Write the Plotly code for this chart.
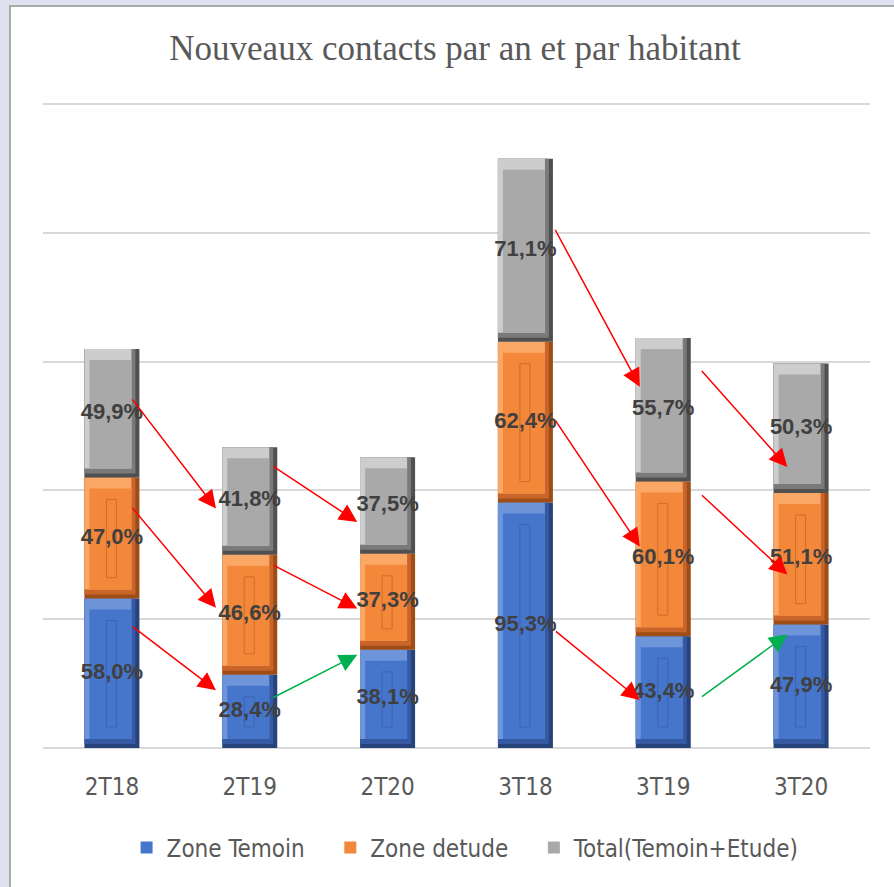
import plotly.graph_objects as go

# data
periods = ["2T18", "2T19", "2T20", "3T18", "3T19", "3T20"]
zone_temoin = [58.0, 28.4, 38.1, 95.3, 43.4, 47.9]
zone_etude = [47.0, 46.6, 37.3, 62.4, 60.1, 51.1]
total_te = [49.9, 41.8, 37.5, 71.1, 55.7, 50.3]
series_names = ["Zone Temoin", "Zone detude", "Total(Temoin+Etude)"]

# arrows between consecutive periods (index pairs)
arrow_pairs = [(0, 1), (1, 2), (3, 4), (4, 5)]
# where each arrow starts / ends inside its segment (fraction of segment height)
from_frac_temoin = [0.82, 0.68, 0.48, 0.45]
to_frac_temoin = [0.79, 0.95, 0.43, 0.92]
from_frac_etude = [0.76, 0.92, 0.52, 0.92]
to_frac_etude = [0.56, 0.43, 0.58, 0.38]
from_frac_total = [0.62, 0.83, 0.62, 0.78]
to_frac_total = [0.43, 0.33, 0.66, 0.20]
from_dx = [0.14, 0.16, 0.21, 0.27]
to_dx = [-0.245, -0.22, -0.17, -0.10]

# colours: dark edge, mid, highlight, face, inner line
pal = {
    "Zone Temoin": ("#26437c", "#3559a3", "#6e95da", "#4676cb", "#3a64b0"),
    "Zone detude": ("#9e4d17", "#c9652a", "#fba867", "#f3873a", "#cf6f2a"),
    "Total(Temoin+Etude)": ("#505050", "#7a7a7a", "#cdcdcd", "#a9a9a9", None),
}

Y_MAX = 250.8
PLOT_TOP = 102
PX_X = 1 / 137.8                  # category units per pixel
PX_Y = Y_MAX / (748 - PLOT_TOP)   # value units per pixel
BAR_W = 55 * PX_X

fig = go.Figure()

values = [zone_temoin, zone_etude, total_te]
bases = []
run = [0.0] * len(periods)
for vals in values:
    bases.append(list(run))
    run = [r + v for r, v in zip(run, vals)]


def layer(name, vals, base, x0, x1, b, t, color, show=False, line=None, label=None):
    fig.add_trace(go.Bar(
        x=periods,
        y=[v - (b + t) * PX_Y for v in vals],
        base=[bb + b * PX_Y for bb in base],
        width=(x1 - x0) * PX_X,
        offset=-BAR_W / 2 + x0 * PX_X,
        marker=dict(color=color, line=dict(width=1 if line else 0, color=line or color)),
        name=label or name, legendgroup=name, showlegend=show, hoverinfo="skip",
    ))


for k, (name, vals, base) in enumerate(zip(series_names, values, bases)):
    dark, mid, light, face, inner = pal[name]
    pad = "\u00a0" * 3 if k < len(series_names) - 1 else ""
    layer(name, vals, base, 0, 55, 0, 0, dark)
    layer(name, vals, base, 0, 51, 4, 0, mid)
    layer(name, vals, base, 0, 47, 9, 0, light)
    layer(name, vals, base, 5, 47, 9, 11, face, show=True, label=name + pad)
    if inner:
        layer(name, vals, base, 22, 32, 21, 22, face, line=inner)

# data labels
for vals, base in zip(values, bases):
    fig.add_trace(go.Scatter(
        x=periods, y=[b + v / 2 for v, b in zip(vals, base)],
        mode="text", text=[f"{v:.1f}".replace(".", ",") + "%" for v in vals],
        textfont=dict(family="Liberation Sans, Arial", size=22, color="#404040", weight="bold"),
        showlegend=False, hoverinfo="skip", cliponaxis=False,
    ))

# arrows
fracs = [(from_frac_temoin, to_frac_temoin), (from_frac_etude, to_frac_etude),
         (from_frac_total, to_frac_total)]
for (ff, tf), vals, base in zip(fracs, values, bases):
    for k, (i, j) in enumerate(arrow_pairs):
        color = "#00b050" if vals[j] > vals[i] else "#ff0000"
        fig.add_annotation(
            x=j + to_dx[k], y=base[j] + vals[j] * tf[k],
            ax=i + from_dx[k], ay=base[i] + vals[i] * ff[k],
            xref="x", yref="y", axref="x", ayref="y",
            text="", showarrow=True, arrowhead=2, arrowsize=2.4,
            arrowwidth=1.5, arrowcolor=color, standoff=0,
        )

# chart frame on a light background
H = 748 - PLOT_TOP
fig.add_shape(type="rect", xref="paper", yref="paper",
              x0=(10 - 43) / 827, x1=1.2, y0=-0.4, y1=(748 - 6) / H,
              fillcolor="white", line=dict(color="#a9a9a9", width=2), layer="below")

cond = "Liberation Sans Narrow, DejaVu Sans Condensed, Roboto Condensed, Liberation Sans"
fig.update_layout(
    width=894, height=887,
    barmode="overlay",
    paper_bgcolor="#dfe2ee", plot_bgcolor="white",
    margin=dict(l=43, r=24, t=PLOT_TOP, b=139),
    title=dict(text="Nouveaux contacts par an et par habitant",
               font=dict(family="Liberation Serif, DejaVu Serif", size=35, color="#595959"),
               x=455 / 894, xanchor="center", xref="container",
               y=1 - 48 / 887, yanchor="middle", yref="container"),
    xaxis=dict(type="category", showgrid=False, showline=False, ticks="",
               tickfont=dict(family=cond, size=24, color="#595959"),
               ticklabelstandoff=22),
    yaxis=dict(range=[0, Y_MAX], dtick=50, showticklabels=False,
               gridcolor="#d9d9d9", gridwidth=2, zeroline=True,
               zerolinecolor="#d9d9d9", zerolinewidth=2),
    legend=dict(orientation="h", x=0.511, xanchor="center", y=(748 - 848) / H, yanchor="middle",
                font=dict(family=cond, size=24, color="#595959"),
                bgcolor="rgba(0,0,0,0)", traceorder="normal"),
    showlegend=True,
)

fig.write_html("out.html", config={"displayModeBar": False},
               post_script="document.body.style.margin='0';")
